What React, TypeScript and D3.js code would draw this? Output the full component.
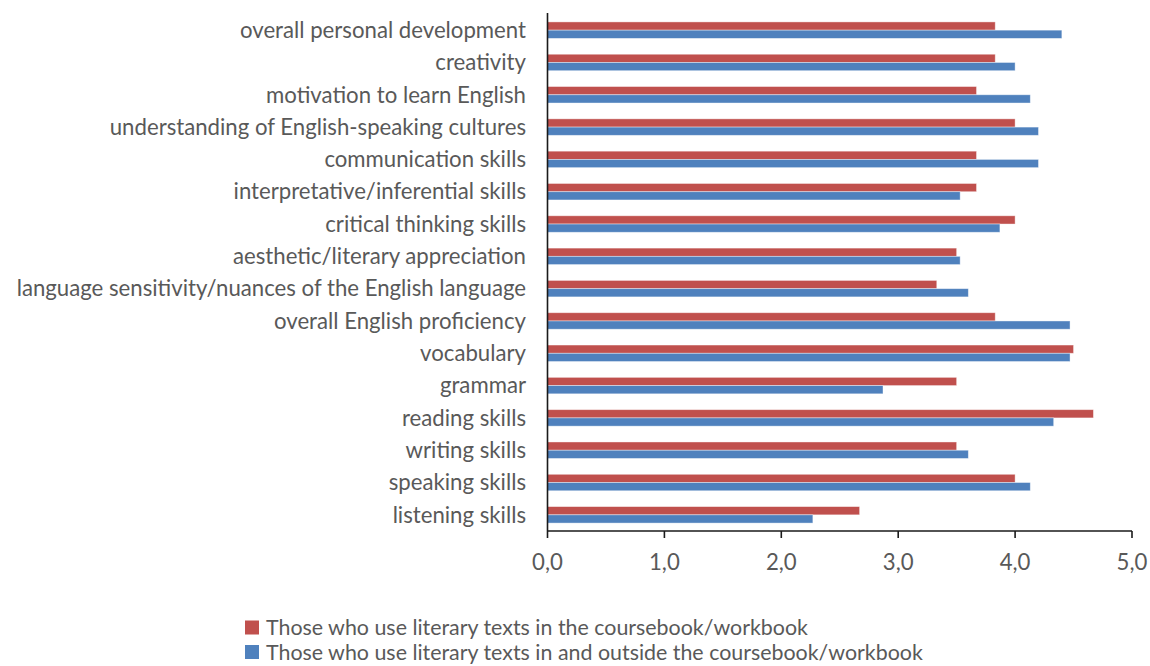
import React from "react";
import * as d3 from "d3";

const categories = [
  "overall personal development",
  "creativity",
  "motivation to learn English",
  "understanding of English-speaking cultures",
  "communication skills",
  "interpretative/inferential skills",
  "critical thinking skills",
  "aesthetic/literary appreciation",
  "language sensitivity/nuances of the English language",
  "overall English proficiency",
  "vocabulary",
  "grammar",
  "reading skills",
  "writing skills",
  "speaking skills",
  "listening skills",
];

const seriesNames = [
  "Those who use literary texts in the coursebook/workbook",
  "Those who use literary texts in and outside the coursebook/workbook",
];

const inCoursebook = [3.83, 3.83, 3.67, 4.0, 3.67, 3.67, 4.0, 3.5, 3.33, 3.83, 4.5, 3.5, 4.67, 3.5, 4.0, 2.67];
const inAndOutside = [4.4, 4.0, 4.13, 4.2, 4.2, 3.53, 3.87, 3.53, 3.6, 4.47, 4.47, 2.87, 4.33, 3.6, 4.13, 2.27];

const xTicks = [0, 1, 2, 3, 4, 5];
const colors = ["#C0504D", "#4F81BD"];

const FONT = "Lato, 'Open Sans', sans-serif";
const TEXT = "#595959";
const FS = 22.2;
const LEGEND_FS = 21.4;

export default function App() {
  const width = 1150;
  const height = 666;
  const left = 547.5;
  const right = 1132;
  const top = 14;
  const bottom = 531;

  const x = d3.scaleLinear().domain([0, 5]).range([left, right]);
  const y = d3.scaleBand<string>().domain(categories).range([top, bottom]).paddingInner(0.49).paddingOuter(0.245);
  const sub = d3.scaleBand<number>().domain([0, 1]).range([0, y.bandwidth()]);
  const fmt = (v: number) => d3.format(".1f")(v).replace(".", ",");
  const series = [inCoursebook, inAndOutside];

  return (
    <svg width={width} height={height} style={{ position: "absolute", left: 0, top: 0, background: "#fff" }}>
      {series.map((vals, si) =>
        categories.map((c, i) => (
          <rect
            key={`${si}-${i}`}
            x={x(0)}
            y={(y(c) as number) + (sub(si) as number)}
            width={x(vals[i]) - x(0)}
            height={sub.bandwidth()}
            fill={colors[si]}
            stroke="#ffffff"
            strokeOpacity={0.5}
            strokeWidth={0.8}
          />
        ))
      )}
      {categories.map((c) => (
        <text
          key={c}
          x={526}
          y={(y(c) as number) + y.bandwidth() / 2}
          dy="0.35em"
          textAnchor="end"
          fontFamily={FONT}
          fontSize={FS}
          fill={TEXT}
        >
          {c}
        </text>
      ))}
      <line x1={left} x2={left} y1={top - 1} y2={bottom} stroke="#1a1a1a" strokeWidth={1.6} />
      <line x1={left} x2={right} y1={bottom} y2={bottom} stroke="#1a1a1a" strokeWidth={1.6} />
      {xTicks.map((t) => (
        <g key={t}>
          <line x1={x(t)} x2={x(t)} y1={bottom} y2={bottom + 7} stroke="#1a1a1a" strokeWidth={1.6} />
          <text x={x(t)} y={bottom + 31} dy="0.35em" textAnchor="middle" fontFamily={FONT} fontSize={FS} fill={TEXT}>
            {fmt(t)}
          </text>
        </g>
      ))}
      {seriesNames.map((n, i) => (
        <g key={n} transform={`translate(245, ${627.5 + i * 24.5})`}>
          <rect x={0} y={-7} width={14} height={14} fill={colors[i]} />
          <text x={21} y={0} dy="0.35em" fontFamily={FONT} fontSize={LEGEND_FS} fill={TEXT}>
            {n}
          </text>
        </g>
      ))}
    </svg>
  );
}
